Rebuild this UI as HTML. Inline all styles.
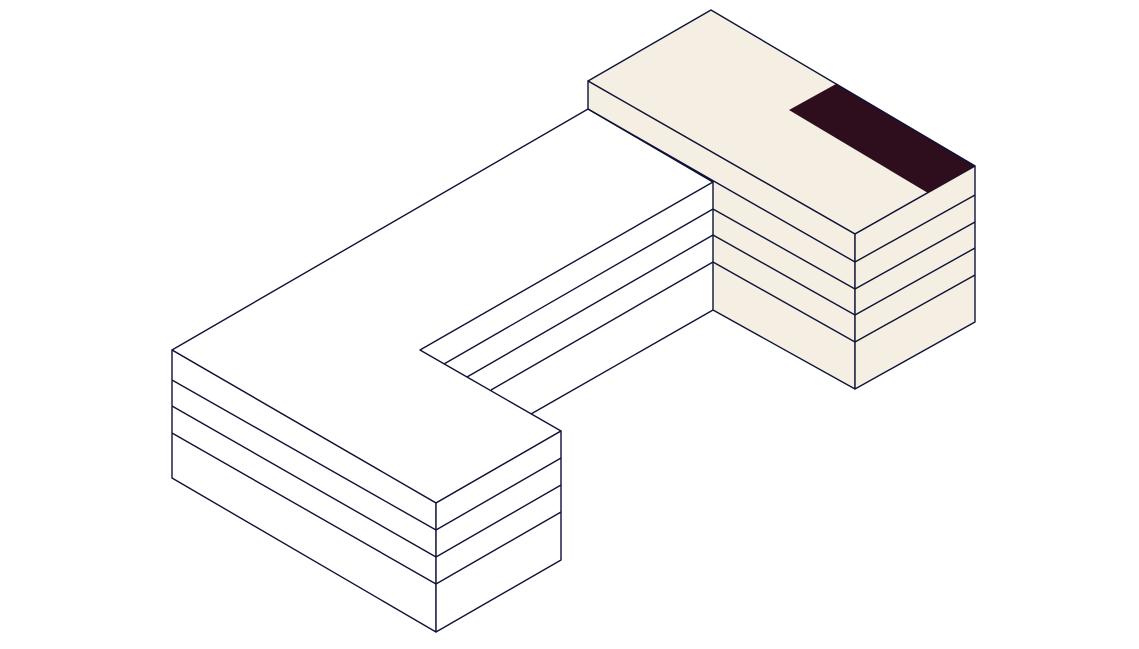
<!DOCTYPE html>
<html><head><style>html,body{margin:0;padding:0;background:#fff}svg{display:block}</style></head>
<body>
<svg width="1139" height="649" viewBox="0 0 1139 649" xmlns="http://www.w3.org/2000/svg">
<g stroke="#0f1238" stroke-width="1.4" stroke-linejoin="round" fill="none">
<polygon points="588,109 172,350 436,503 561,431 420,350 713,182" fill="#fff"/>
<line x1="444" y1="364" x2="713" y2="209"/>
<line x1="467" y1="377" x2="713" y2="235"/>
<line x1="491" y1="390" x2="713" y2="262"/>
<line x1="531" y1="414" x2="713" y2="310"/>
<polygon points="172,350 436,503 436,632 172,478" fill="#fff"/>
<polygon points="436,503 561,431 561,560 436,632" fill="#fff"/>
<line x1="172" y1="380" x2="436" y2="530"/>
<line x1="172" y1="406" x2="436" y2="557"/>
<line x1="172" y1="433" x2="436" y2="584"/>
<line x1="436" y1="530" x2="561" y2="458"/>
<line x1="436" y1="557" x2="561" y2="485"/>
<line x1="436" y1="584" x2="561" y2="512"/>
<polygon points="711,10 588,81 855,234 975,166" fill="#f4efe2"/>
<polygon points="588,81 855,234 855,389 713,310 713,182 588,109" fill="#f4efe2"/>
<polygon points="855,234 975,166 975,322 855,389" fill="#f4efe2"/>
<polygon points="789,110 836,84 975,166 928,193" fill="#2e0e1c" stroke="none"/>
<line x1="836" y1="84" x2="975" y2="166"/>
<line x1="588" y1="109" x2="855" y2="262"/>
<line x1="713" y1="209" x2="855" y2="289"/>
<line x1="713" y1="235" x2="855" y2="315"/>
<line x1="713" y1="262" x2="855" y2="342"/>
<line x1="855" y1="262" x2="975" y2="195"/>
<line x1="855" y1="289" x2="975" y2="222"/>
<line x1="855" y1="315" x2="975" y2="248"/>
<line x1="855" y1="342" x2="975" y2="275"/>
</g>
</svg>
</body></html>
